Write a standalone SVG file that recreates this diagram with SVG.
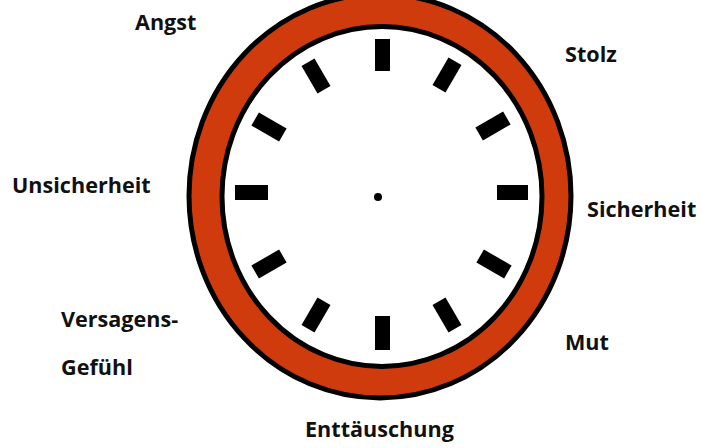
<svg xmlns="http://www.w3.org/2000/svg" width="703" height="448" viewBox="0 0 703 448">
<style>
.lbl{font-family:"Open Sans","Liberation Sans",sans-serif;font-weight:bold;font-size:21.6px;fill:#111}
.tick{fill:#000}
</style>
<rect width="703" height="448" fill="#fff"/>
<g id="clock">
<ellipse cx="380" cy="196" rx="191" ry="202" fill="#CF3B0C" stroke="#000" stroke-width="5"/>
<ellipse cx="382" cy="196.5" rx="160" ry="170" fill="#fff" stroke="#000" stroke-width="5"/>
<rect class="tick" x="375" y="39" width="15" height="32"/>
<rect class="tick" x="375" y="316" width="15" height="34"/>
<rect class="tick" x="497" y="185" width="31" height="15"/>
<rect class="tick" x="235" y="185" width="33" height="15"/>
<rect class="tick" x="-7.5" y="-16" width="15" height="32" transform="translate(447,75) rotate(30)"/>
<rect class="tick" x="-7.5" y="-16" width="15" height="32" transform="translate(493,126) rotate(60)"/>
<rect class="tick" x="-7.5" y="-16" width="15" height="32" transform="translate(494,264) rotate(120)"/>
<rect class="tick" x="-7.5" y="-16" width="15" height="32" transform="translate(447,315) rotate(150)"/>
<rect class="tick" x="-7.5" y="-16" width="15" height="32" transform="translate(316,315) rotate(-150)"/>
<rect class="tick" x="-7.5" y="-16" width="15" height="32" transform="translate(269,264) rotate(-120)"/>
<rect class="tick" x="-7.5" y="-16" width="15" height="32" transform="translate(269,127) rotate(-60)"/>
<rect class="tick" x="-7.5" y="-16" width="15" height="32" transform="translate(316,76) rotate(-30)"/>
<circle cx="378" cy="197" r="4" fill="#000"/>
</g>
<g id="labels">
<text id="angst" class="lbl" x="135" y="30">Angst</text>
<text id="stolz" class="lbl" x="565" y="62">Stolz</text>
<text id="unsicherheit" class="lbl" x="12" y="193">Unsicherheit</text>
<text id="sicherheit" class="lbl" x="587" y="217">Sicherheit</text>
<text id="versagens" class="lbl" x="61" y="327">Versagens-</text>
<text id="gefuehl" class="lbl" x="61" y="375">Gefühl</text>
<text id="mut" class="lbl" x="565" y="350">Mut</text>
<text id="enttaeuschung" class="lbl" x="305" y="437">Enttäuschung</text>
</g>
</svg>
